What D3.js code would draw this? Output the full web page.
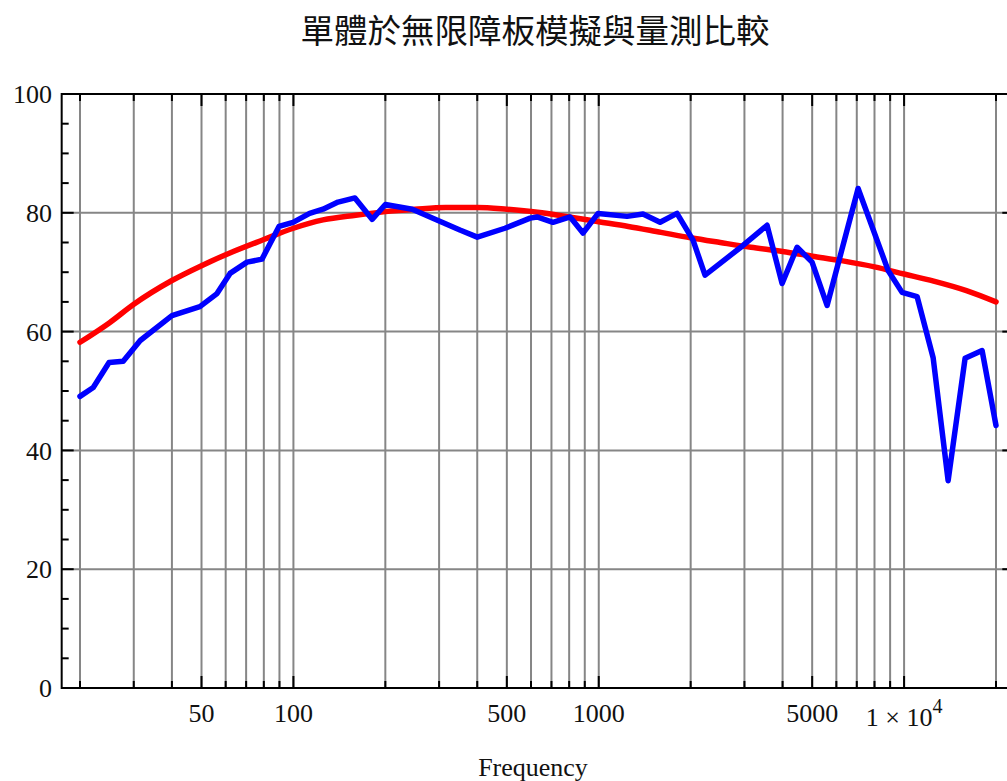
<!DOCTYPE html>
<html><head><meta charset="utf-8">
<script src="https://cdn.jsdelivr.net/npm/d3@7"></script>
<style>
html,body{margin:0;padding:0;background:#fff;}
svg{display:block;}
</style></head>
<body>
<script>
// ---- data ----
const title = "單體於無限障板模擬與量測比較";
const xAxisTitle = "Frequency";
// simulated (red) curve
const simFreq = [20,25,30,40,50,63,80,100,125,160,200,250,315,400,500,630,800,1000,1250,1600,2000,2500,3150,4000,5000,6300,8000,10000,12500,16000,20000];
const simDb   = [58.2,61.5,64.6,68.6,71.1,73.4,75.5,77.4,78.8,79.6,80.2,80.6,80.9,80.9,80.6,80.1,79.3,78.5,77.7,76.7,75.8,75,74.2,73.5,72.7,71.9,70.9,69.7,68.5,66.9,65];
// measured (blue) curve
const measFreq = [20,22.1,24.9,27.7,31.5,40,49.4,56.2,62,70.5,78.9,89.7,99.7,113,125,140,159,181,200,245,295,351,400,493,596,628,708,806,888,995,1238,1396,1588,1804,2036,2229,2968,3558,3986,4462,4996,5595,7070,8864,9850,11030,12450,13940,15840,18010,20000];
const measDb   = [49.1,50.6,54.8,55,58.5,62.7,64.2,66.4,69.8,71.7,72.2,77.7,78.4,79.9,80.6,81.8,82.5,78.9,81.4,80.6,78.8,77.1,75.9,77.4,79.1,79.3,78.4,79.3,76.6,79.9,79.4,79.8,78.4,79.9,75.4,69.5,74.5,77.9,68.1,74.2,71.7,64.4,84.1,70.3,66.6,65.9,55.6,34.9,55.5,56.8,44.2];
// ticks
const xGrid = [20,30,40,50,60,70,80,90,100,200,300,400,500,600,700,800,900,1000,2000,3000,4000,5000,6000,7000,8000,9000,10000,20000];
const xLabelTicks = [50,100,500,1000,5000,10000];
const yLabelTicks = [0,20,40,60,80,100];
const yGrid = [20,40,60,80];
const yMinorTicks = [5,10,15,25,30,35,45,50,55,65,70,75,85,90,95];

// ---- layout ----
const W = 1007, H = 781;
const svg = d3.select("body").append("svg").attr("width", W).attr("height", H);

const x = d3.scaleLog().domain([20, 20000]).range([80, 996]);
const padPx = 0.02 * (996 - 80);
const fx0 = 80 - padPx, fx1 = 996 + padPx;
const y = d3.scaleLinear().domain([0, 100]).range([688, 94]);
const fy0 = y(100), fy1 = y(0);

const serif = "'Liberation Serif','Times New Roman',serif";

// title
svg.append("text").attr("x", 535).attr("y", 43).attr("text-anchor", "middle")
  .attr("font-family", "'Noto Sans CJK TC','Noto Sans CJK SC',sans-serif")
  .attr("font-size", 33.5).attr("fill", "#111").text(title);

// grid
const grid = svg.append("g").attr("stroke", "#868686").attr("stroke-width", 2);
grid.selectAll("line.vx").data(xGrid).join("line")
  .attr("x1", d => x(d)).attr("x2", d => x(d)).attr("y1", fy0).attr("y2", fy1);
grid.selectAll("line.hy").data(yGrid).join("line")
  .attr("x1", fx0).attr("x2", fx1).attr("y1", d => y(d)).attr("y2", d => y(d));

// clip
svg.append("clipPath").attr("id", "clip").append("rect")
  .attr("x", fx0).attr("y", fy0).attr("width", fx1 - fx0).attr("height", fy1 - fy0);

const plot = svg.append("g").attr("clip-path", "url(#clip)");
const simLine = d3.line().x(d => x(d[0])).y(d => y(d[1])).curve(d3.curveMonotoneX);
const measLine = d3.line().x(d => x(d[0])).y(d => y(d[1]));
plot.append("path").datum(simFreq.map((f, i) => [f, simDb[i]]))
  .attr("d", simLine)
  .attr("fill", "none").attr("stroke", "#ff0000").attr("stroke-width", 5.5)
  .attr("stroke-linejoin", "round").attr("stroke-linecap", "round");
plot.append("path").datum(measFreq.map((f, i) => [f, measDb[i]]))
  .attr("d", measLine)
  .attr("fill", "none").attr("stroke", "#0000ff").attr("stroke-width", 5.5)
  .attr("stroke-linejoin", "round").attr("stroke-linecap", "round");

// frame
svg.append("rect").attr("x", fx0).attr("y", fy0).attr("width", fx1 - fx0).attr("height", fy1 - fy0)
  .attr("fill", "none").attr("stroke", "#000").attr("stroke-width", 2);

// ticks
const tk = svg.append("g").attr("stroke", "#000").attr("stroke-width", 2);
xGrid.forEach(d => {
  const len = xLabelTicks.includes(d) ? 12 : 7;
  tk.append("line").attr("x1", x(d)).attr("x2", x(d)).attr("y1", fy1).attr("y2", fy1 - len);
  tk.append("line").attr("x1", x(d)).attr("x2", x(d)).attr("y1", fy0).attr("y2", fy0 + len);
});
yLabelTicks.concat(yMinorTicks).forEach(d => {
  const len = yLabelTicks.includes(d) ? 12 : 7;
  tk.append("line").attr("x1", fx0).attr("x2", fx0 + len).attr("y1", y(d)).attr("y2", y(d));
  tk.append("line").attr("x1", fx1).attr("x2", fx1 - len).attr("y1", y(d)).attr("y2", y(d));
});

// y labels
svg.append("g").selectAll("text").data(yLabelTicks).join("text")
  .attr("x", 52).attr("y", d => y(d)).attr("dy", "0.35em").attr("text-anchor", "end")
  .attr("font-family", serif).attr("font-size", 26).attr("fill", "#111").text(d => d);

// x labels
xLabelTicks.forEach(d => {
  if (d === 10000) {
    const t = svg.append("text").attr("x", x(d)).attr("y", 726).attr("text-anchor", "middle")
      .attr("font-family", serif).attr("font-size", 26).attr("fill", "#111");
    t.append("tspan").text("1 \u00d7 10");
    t.append("tspan").attr("dy", -13).attr("font-size", 20).text("4");
  } else {
    svg.append("text").attr("x", x(d)).attr("y", 722).attr("text-anchor", "middle")
      .attr("font-family", serif).attr("font-size", 26).attr("fill", "#111").text(d);
  }
});

// axis title
svg.append("text").attr("x", 533).attr("y", 776).attr("text-anchor", "middle")
  .attr("font-family", serif).attr("font-size", 26).attr("fill", "#111").text(xAxisTitle);
</script>
</body></html>
